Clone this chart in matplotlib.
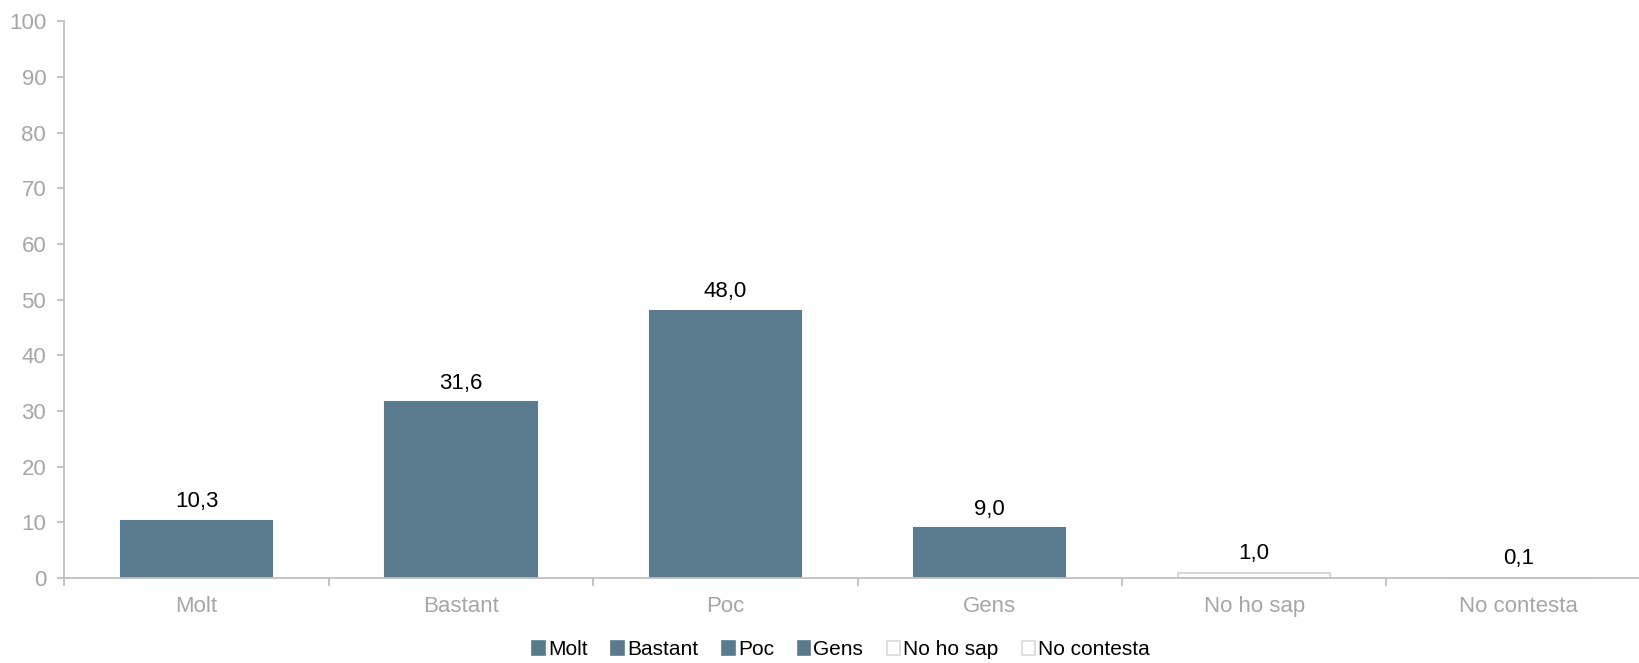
import matplotlib
matplotlib.use("Agg")
import matplotlib.pyplot as plt
from matplotlib.patches import Patch
import numpy as np

# dades
categories = ["Molt", "Bastant", "Poc", "Gens", "No ho sap", "No contesta"]
valors = [10.3, 31.6, 48.0, 9.0, 1.0, 0.1]
etiquetes = ["10,3", "31,6", "48,0", "9,0", "1,0", "0,1"]
yticks = [0, 10, 20, 30, 40, 50, 60, 70, 80, 90, 100]

blau = "#5a7b8e"
gris_vora = "#d9d9d9"
colors_fons = [blau, blau, blau, blau, "white", "white"]
colors_vora = [blau, blau, blau, blau, gris_vora, gris_vora]

plt.rcParams["font.family"] = ["Liberation Sans", "DejaVu Sans"]

fig = plt.figure(figsize=(16.39, 6.63), dpi=100)
ax = fig.add_axes([0.0392, 0.128, 0.968, 0.84])

x = np.arange(len(categories))
ax.bar(x, valors, width=0.573, color=colors_fons, edgecolor=colors_vora, linewidth=1.5, zorder=2)

# etiquetes de valor
for xi, v, t in zip(x, valors, etiquetes):
    ax.annotate(t, (xi, v), xytext=(0, 6), textcoords="offset points",
                ha="center", va="bottom", fontsize=16, color="black")

ax.set_xlim(-0.5, len(categories) - 0.5)
ax.set_ylim(0, 100)
ax.set_yticks(yticks)
ax.set_xticks(x)
ax.set_xticklabels(categories)
ax.set_xticks(np.arange(-0.5, len(categories)), minor=True)

gris_eix = "#bfbfbf"
for s in ["top", "right"]:
    ax.spines[s].set_visible(False)
ax.spines["left"].set_color(gris_eix)
ax.spines["bottom"].set_color(gris_eix)
ax.spines["left"].set_linewidth(1.3)
ax.spines["bottom"].set_linewidth(1.3)

ax.tick_params(axis="y", colors=gris_eix, labelcolor="#a6a6a6", labelsize=16, length=5, width=1.3, pad=8)
ax.tick_params(axis="x", which="major", length=0, labelcolor="#a6a6a6", labelsize=16, pad=13)
ax.tick_params(axis="x", which="minor", length=6, width=1.3, color=gris_eix)

# llegenda
handles = [Patch(facecolor=fc, edgecolor=ec, linewidth=1.2, label=c)
           for c, fc, ec in zip(categories, colors_fons, colors_vora)]
fig.legend(handles=handles, loc="center", bbox_to_anchor=(0.513, 0.02), ncol=6,
           frameon=False, fontsize=15, handlelength=0.6, handleheight=0.6,
           handletextpad=0.15, columnspacing=1.15)

fig.savefig("out.png", dpi=100)
